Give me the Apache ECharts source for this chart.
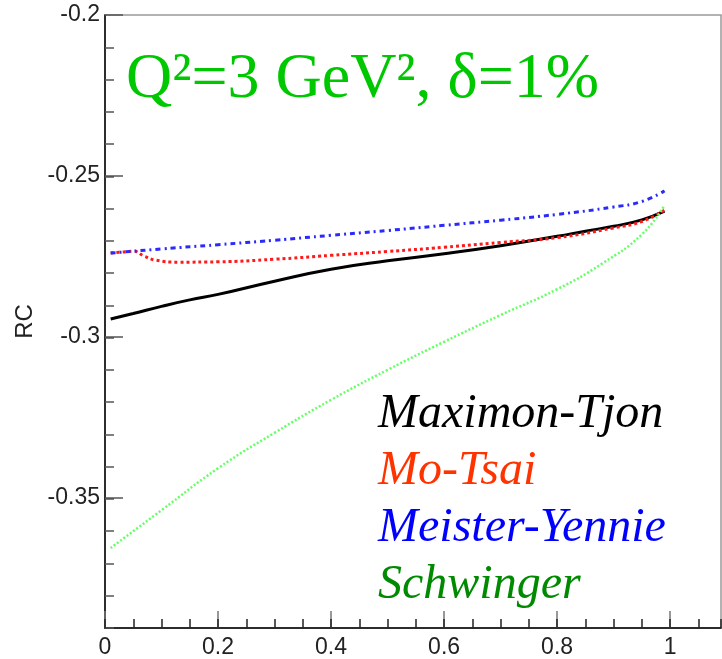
<!DOCTYPE html>
<html>
<head>
<meta charset="utf-8">
<script src="https://cdn.jsdelivr.net/npm/echarts@6/dist/echarts.min.js"></script>
<style>html,body{margin:0;padding:0;background:#fff}#c{width:722px;height:659px}</style>
</head>
<body>
<div id="c"></div>
<script>
// ---- data ----
const xMT = [0.01,0.05,0.1,0.15,0.2,0.3,0.4,0.5,0.6,0.7,0.8,0.85,0.9,0.95,0.99];
const yMT = [-0.2942,-0.2925,-0.2903,-0.2883,-0.2866,-0.2825,-0.2788,-0.2762,-0.2740,-0.2715,-0.2686,-0.2670,-0.2655,-0.2635,-0.2608];
const xMo = [0.01,0.03,0.05,0.07,0.09,0.13,0.2,0.3,0.4,0.5,0.6,0.7,0.8,0.9,0.95,0.99];
const yMo = [-0.2738,-0.2735,-0.2732,-0.2748,-0.2760,-0.2766,-0.2765,-0.2757,-0.2745,-0.2733,-0.2720,-0.2705,-0.2690,-0.2660,-0.2640,-0.2605];
const xMY = [0.01,0.1,0.2,0.3,0.4,0.5,0.6,0.7,0.8,0.9,0.95,0.99];
const yMY = [-0.2738,-0.2725,-0.2712,-0.2698,-0.2683,-0.2668,-0.2652,-0.2636,-0.2618,-0.2595,-0.2578,-0.2545];
const xSw = [0.01,0.1,0.2,0.3,0.4,0.5,0.6,0.7,0.8,0.88,0.95,0.99];
const ySw = [-0.3652,-0.3535,-0.3405,-0.3295,-0.3193,-0.3100,-0.3013,-0.2930,-0.2850,-0.2770,-0.2680,-0.2590];
const seriesNames = ['Maximon-Tjon','Mo-Tsai','Meister-Yennie','Schwinger'];
const titleText = 'Q\u00b2=3 GeV\u00b2, \u03b4=1%';
const yName = 'RC';

const zip = (xs, ys) => xs.map((x, i) => [x, ys[i]]);
const chart = echarts.init(document.getElementById('c'), null, {renderer: 'canvas'});
const labelFont = {fontFamily: 'Liberation Sans', fontSize: 23, color: '#222'};
const serif = 'Liberation Serif';

chart.setOption({
  animation: false,
  backgroundColor: '#fff',
  title: {
    text: titleText, left: 126, top: 48, padding: 0,
    textStyle: {fontFamily: serif, fontSize: 64, fontWeight: 'normal', color: '#00c800'}
  },
  legend: {
    orient: 'vertical', left: 368, top: 381, itemWidth: 0, itemHeight: 0, itemGap: 0,
    icon: 'none', selectedMode: false,
    textStyle: {fontFamily: serif, fontStyle: 'italic', fontSize: 48, lineHeight: 57},
    data: [
      {name: seriesNames[0], textStyle: {color: '#000000'}},
      {name: seriesNames[1], textStyle: {color: '#ff3300'}},
      {name: seriesNames[2], textStyle: {color: '#0000ff'}},
      {name: seriesNames[3], textStyle: {color: '#008a00'}}
    ]
  },
  grid: [
    {left: 105, right: 1, top: 15, bottom: 30, show: true, borderColor: '#999', borderWidth: 1.5, containLabel: false},
    {left: 105, right: 1, top: 15, bottom: -2, show: false}
  ],
  xAxis: [
    {type: 'value', gridIndex: 0, min: 0, max: 1.09, interval: 0.2,
     axisLine: {show: true, lineStyle: {color: '#000', width: 1.5}},
     axisTick: {show: true, inside: true, length: 17, lineStyle: {color: '#777', width: 1.5}},
     axisLabel: {show: true, margin: 8, showMaxLabel: false, ...labelFont, formatter: v => String(+v.toFixed(2))},
     splitLine: {show: false}},
    {type: 'value', gridIndex: 0, min: 0, max: 1.09, interval: 0.05, position: 'bottom',
     axisLine: {show: false},
     axisTick: {show: true, inside: true, length: 9, lineStyle: {color: '#222', width: 1.5}},
     axisLabel: {show: false}, splitLine: {show: false}},
    {type: 'value', gridIndex: 1, min: 0, max: 1.09, show: false}
  ],
  yAxis: [
    {type: 'value', gridIndex: 0, min: -0.39, max: -0.2, interval: 0.01,
     name: yName, nameLocation: 'middle', nameGap: 68, nameRotate: 90,
     nameTextStyle: {fontFamily: 'Liberation Sans', fontSize: 24, color: '#222'},
     axisLine: {show: true, lineStyle: {color: '#000', width: 1.5}},
     axisTick: {show: true, inside: true, length: 9, lineStyle: {color: '#555', width: 1.5}},
     axisLabel: {show: false}, splitLine: {show: false}},
    {type: 'value', gridIndex: 1, min: -0.4, max: -0.2, interval: 0.05,
     axisLine: {show: false},
     axisTick: {show: true, inside: true, length: 18, lineStyle: {color: '#555', width: 1.5}},
     axisLabel: {show: true, margin: 5, showMinLabel: false, ...labelFont, formatter: v => String(+v.toFixed(2))},
     splitLine: {show: false}}
  ],
  series: [
    {name: seriesNames[0], type: 'line', xAxisIndex: 0, yAxisIndex: 0, data: zip(xMT, yMT), smooth: true, showSymbol: false,
     lineStyle: {color: '#000', width: 3}, itemStyle: {color: '#000'}},
    {name: seriesNames[1], type: 'line', xAxisIndex: 0, yAxisIndex: 0, data: zip(xMo, yMo), smooth: true, showSymbol: false,
     lineStyle: {color: '#ff1a1a', width: 3, type: [3, 3]}, itemStyle: {color: '#ff1a1a'}},
    {name: seriesNames[2], type: 'line', xAxisIndex: 0, yAxisIndex: 0, data: zip(xMY, yMY), smooth: true, showSymbol: false,
     lineStyle: {color: '#2a2aff', width: 3, type: [5, 4, 2, 4]}, itemStyle: {color: '#2a2aff'}},
    {name: seriesNames[3], type: 'line', xAxisIndex: 0, yAxisIndex: 0, data: zip(xSw, ySw), smooth: true, showSymbol: false,
     lineStyle: {color: '#66ff66', width: 2.5, type: [2, 2]}, itemStyle: {color: '#66ff66'}}
  ]
});
</script>
</body>
</html>
